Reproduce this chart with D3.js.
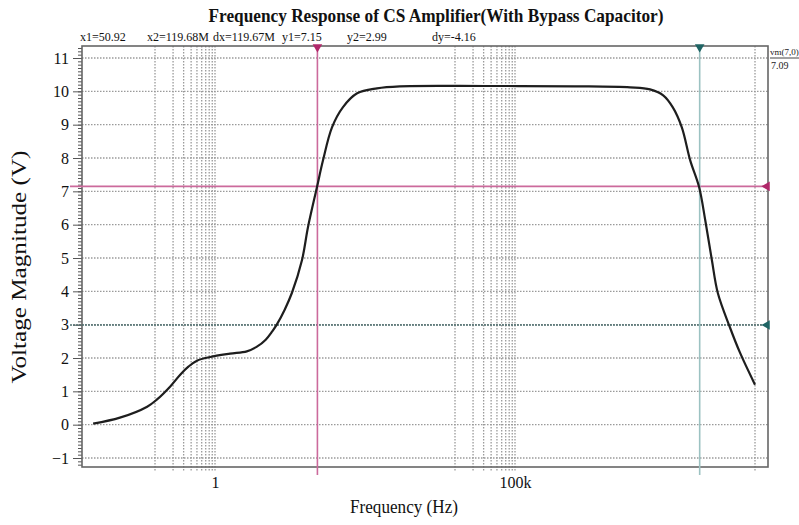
<!DOCTYPE html>
<html>
<head>
<meta charset="utf-8">
<script src="https://cdn.jsdelivr.net/npm/d3@7"></script>
<style>
  body { margin: 0; background: #fff; }
  text { font-family: 'Liberation Serif', 'Times New Roman', serif; }
</style>
</head>
<body>
<script>
// frequency (Hz) and output magnitude (V)
var freqs = [0.0093, 0.026, 0.074, 0.107, 0.178, 0.263, 0.36, 0.5, 0.832, 1.78, 3.39, 5.0, 7.0, 9.0,
    10.7, 14.5, 19.1, 28.2, 35.5, 50.1, 63.1, 89.1, 135, 234, 501, 1200, 31600, 1e6, 8.3e6,
    1.78e7, 2.95e7, 4.27e7, 6.03e7, 8.32e7, 1.17e8, 1.48e8, 1.91e8, 2.4e8, 3.8e8, 5.62e8, 1e9];
var volts = [0.03, 0.21, 0.54, 0.75, 1.14, 1.5, 1.74, 1.92, 2.03, 2.13, 2.2, 2.34, 2.55, 2.8,
    3.0, 3.45, 3.95, 4.94, 5.93, 7.13, 7.93, 8.92, 9.52, 9.94, 10.09, 10.15, 10.16, 10.15, 10.12,
    10.06, 9.88, 9.52, 8.92, 7.93, 7.13, 6.14, 4.94, 3.95, 2.93, 2.16, 1.2];

var yTicks = [-1, 0, 1, 2, 3, 4, 5, 6, 7, 8, 9, 10, 11];
var xTicks = [1, 1e5];
var xTickLabels = ['1', '100k'];
var xGrid = [0.1, 0.2, 0.3, 0.4, 0.5, 0.6, 0.7, 0.8, 0.9, 1,
    1e4, 2e4, 3e4, 4e4, 5e4, 6e4, 7e4, 8e4, 9e4, 1e5, 1e9];

// cursors
var cursorX1 = 50.92, cursorX2 = 119.68e6;
var cursorY1 = 7.15, cursorY2 = 2.99;
var headerLabels = ['x1=50.92', 'x2=119.68M', 'dx=119.67M', 'y1=7.15', 'y2=2.99', 'dy=-4.16'];
var headerX = [80, 147, 213, 282, 347, 432];

var svgWidth = 799, svgHeight = 525;
var plotLeft = 82, plotRight = 768, plotTop = 46, plotBottom = 467;

var dataset = freqs.map(function(f, i) { return { f: f, v: volts[i] }; });

var xScale = d3.scaleLog()
    .domain([0.00607, 1.647e9])
    .range([plotLeft, plotRight]);

var yScale = d3.scaleLinear()
    .domain([-1.27, 11.36])
    .range([plotBottom, plotTop]);

var svg = d3.select('body')
    .append('svg')
    .attr('width', svgWidth)
    .attr('height', svgHeight);

svg.append('rect')
    .attr('width', svgWidth)
    .attr('height', svgHeight)
    .attr('fill', '#fff');

// horizontal dotted grid
svg.append('g')
    .selectAll('line')
    .data(yTicks)
    .enter()
    .append('line')
    .attr('x1', plotLeft)
    .attr('x2', plotRight)
    .attr('y1', function(d) { return yScale(d); })
    .attr('y2', function(d) { return yScale(d); })
    .attr('stroke', '#9a9a9a')
    .attr('stroke-width', 1.3)
    .attr('stroke-dasharray', '1.5,1.5');

// vertical dotted grid (runs a little below the frame like ticks)
svg.append('g')
    .selectAll('line')
    .data(xGrid)
    .enter()
    .append('line')
    .attr('x1', function(d) { return xScale(d); })
    .attr('x2', function(d) { return xScale(d); })
    .attr('y1', plotTop)
    .attr('y2', plotBottom + 4)
    .attr('stroke', '#9a9a9a')
    .attr('stroke-width', 1.3)
    .attr('stroke-dasharray', '1.5,1.5');

// y axis with minor ticks
var minorTicks = d3.range(-12, 114).map(function(i) { return i / 10; });
svg.append('g')
    .attr('transform', 'translate(' + plotLeft + ',0)')
    .call(d3.axisLeft(yScale).tickValues(minorTicks).tickSize(4).tickFormat(''))
    .call(function(g) {
        g.select('.domain').remove();
        g.selectAll('line').attr('stroke', '#555');
    });

svg.append('g')
    .attr('transform', 'translate(' + plotLeft + ',0)')
    .call(d3.axisLeft(yScale).tickValues(yTicks).tickSize(9).tickPadding(4))
    .call(function(g) {
        g.select('.domain').remove();
        g.selectAll('line').attr('stroke', '#555');
        g.selectAll('text')
            .attr('font-family', "'Liberation Serif', serif")
            .attr('font-size', 16)
            .attr('fill', '#111');
    });

// x axis labels
svg.append('g')
    .attr('transform', 'translate(0,' + plotBottom + ')')
    .call(d3.axisBottom(xScale).tickValues(xTicks).tickSize(0).tickPadding(10)
        .tickFormat(function(d, i) { return xTickLabels[i]; }))
    .call(function(g) {
        g.select('.domain').remove();
        g.selectAll('text')
            .attr('font-family', "'Liberation Serif', serif")
            .attr('font-size', 16)
            .attr('fill', '#111');
    });

// frame
svg.append('rect')
    .attr('x', plotLeft)
    .attr('y', plotTop)
    .attr('width', plotRight - plotLeft)
    .attr('height', plotBottom - plotTop)
    .attr('fill', 'none')
    .attr('stroke', '#666')
    .attr('stroke-width', 1.6);

// horizontal cursors
svg.append('line')
    .attr('x1', 70).attr('x2', plotRight)
    .attr('y1', yScale(cursorY2)).attr('y2', yScale(cursorY2))
    .attr('stroke', '#4f6f6f')
    .attr('stroke-width', 1.3)
    .attr('stroke-dasharray', '2,1');

svg.append('line')
    .attr('x1', 70).attr('x2', plotRight)
    .attr('y1', yScale(cursorY1)).attr('y2', yScale(cursorY1))
    .attr('stroke', '#cc6a9c')
    .attr('stroke-width', 1.8);

// vertical cursors
svg.append('line')
    .attr('x1', xScale(cursorX1)).attr('x2', xScale(cursorX1))
    .attr('y1', plotTop).attr('y2', plotBottom + 8)
    .attr('stroke', '#cc6a9c')
    .attr('stroke-width', 1.6);

svg.append('line')
    .attr('x1', xScale(cursorX2)).attr('x2', xScale(cursorX2))
    .attr('y1', plotTop).attr('y2', plotBottom + 8)
    .attr('stroke', '#9cc2c2')
    .attr('stroke-width', 1.6);

// response curve
var line = d3.line()
    .x(function(d) { return xScale(d.f); })
    .y(function(d) { return yScale(d.v); })
    .curve(d3.curveCatmullRom.alpha(0.5));

svg.append('path')
    .datum(dataset)
    .attr('d', line)
    .attr('fill', 'none')
    .attr('stroke', '#1e1e1e')
    .attr('stroke-width', 2.2);

// cursor markers
var tri = d3.symbol().type(d3.symbolTriangle).size(40);
svg.append('path')
    .attr('d', tri())
    .attr('transform', 'translate(' + xScale(cursorX1) + ',' + (plotTop + 1) + ') rotate(180)')
    .attr('fill', '#b0286a');
svg.append('path')
    .attr('d', tri())
    .attr('transform', 'translate(' + xScale(cursorX2) + ',' + (plotTop + 1) + ') rotate(180)')
    .attr('fill', '#1f6464');
svg.append('path')
    .attr('d', tri())
    .attr('transform', 'translate(' + (plotRight - 1) + ',' + yScale(cursorY1) + ') rotate(-90)')
    .attr('fill', '#b0286a');
svg.append('path')
    .attr('d', tri())
    .attr('transform', 'translate(' + (plotRight - 1) + ',' + yScale(cursorY2) + ') rotate(-90)')
    .attr('fill', '#1f6464');

// title
svg.append('text')
    .attr('x', 436)
    .attr('y', 22)
    .attr('text-anchor', 'middle')
    .attr('font-size', 19)
    .attr('font-weight', 'bold')
    .attr('textLength', 455)
    .attr('lengthAdjust', 'spacingAndGlyphs')
    .attr('fill', '#111')
    .text('Frequency Response of CS Amplifier(With Bypass Capacitor)');

// cursor readouts
svg.append('g')
    .selectAll('text')
    .data(headerLabels)
    .enter()
    .append('text')
    .attr('x', function(d, i) { return headerX[i]; })
    .attr('y', 41)
    .attr('font-size', 12)
    .attr('fill', '#111')
    .text(function(d) { return d; });

svg.append('text')
    .attr('x', 770)
    .attr('y', 55)
    .attr('font-size', 9)
    .attr('fill', '#222')
    .text('vm(7,0)');
svg.append('line')
    .attr('x1', 770).attr('x2', 799)
    .attr('y1', 58).attr('y2', 58)
    .attr('stroke', '#444');
svg.append('text')
    .attr('x', 771)
    .attr('y', 69)
    .attr('font-size', 10)
    .attr('fill', '#222')
    .text('7.09');

// axis titles
svg.append('text')
    .attr('x', 404)
    .attr('y', 513)
    .attr('text-anchor', 'middle')
    .attr('font-size', 19)
    .attr('textLength', 108)
    .attr('lengthAdjust', 'spacingAndGlyphs')
    .attr('fill', '#111')
    .text('Frequency (Hz)');

svg.append('text')
    .attr('transform', 'translate(26,267) rotate(-90)')
    .attr('text-anchor', 'middle')
    .attr('font-size', 20)
    .attr('textLength', 233)
    .attr('lengthAdjust', 'spacingAndGlyphs')
    .attr('fill', '#111')
    .text('Voltage Magnitude (V)');
</script>
</body>
</html>
